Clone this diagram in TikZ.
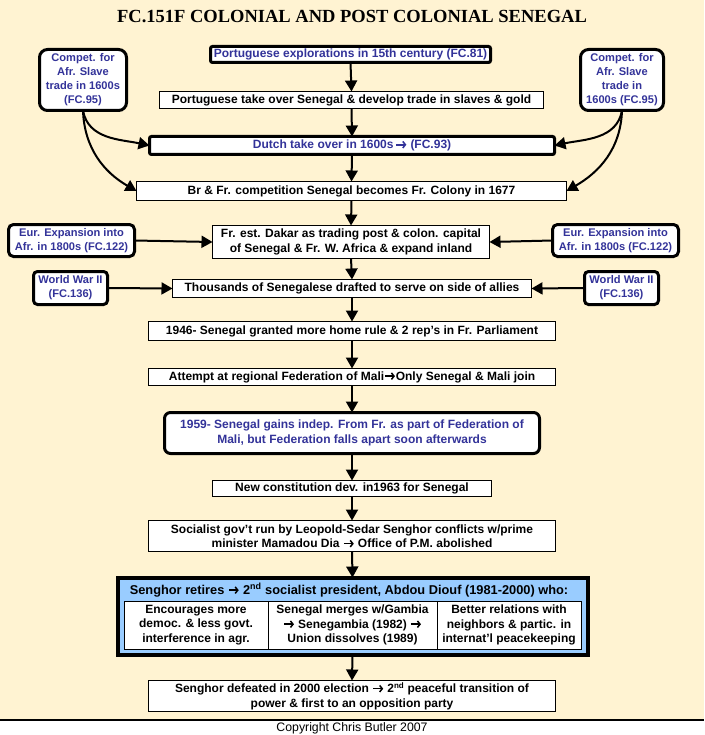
\documentclass[tikz,border=0pt]{standalone}
\usepackage{fontspec}
\setmainfont{Liberation Sans}
\newfontfamily\titlefont{Liberation Serif}
\usetikzlibrary{arrows.meta}
\definecolor{bgbeige}{RGB}{255,243,210}
\definecolor{txtblue}{RGB}{51,51,153}
\definecolor{boxblue}{RGB}{153,204,255}
\newcommand\arw{\tikz[baseline=0pt, x=1pt, y=1pt]\draw[line width=1.6pt, -{Straight Barb[length=2.6pt,width=6.5pt,line width=1.5pt]}] (0.5,3.9) -- (10.5,3.9);}
\begin{document}
\begin{tikzpicture}[x=1pt,y=-1pt,
  every node/.style={inner sep=0pt, outer sep=0pt, align=center, font=\bfseries\fontsize{12}{14.5}\selectfont},
  thinbox/.style={draw=black, line width=1pt, fill=white},
  thickbox/.style={draw=black, line width=3pt, fill=white, text=txtblue},
  sidetext/.style={font=\bfseries\fontsize{11.1}{14}\selectfont},
  flow/.style={line width=2pt, -{Triangle[width=12pt,length=11pt]}},
]
\useasboundingbox (0,0) rectangle (704,735);
\fill[bgbeige] (0,0) rectangle (704,720);
\fill[white] (0,720) rectangle (704,735);
\draw[line width=1.2pt] (0,720) -- (704,720);

\node[font=\titlefont\bfseries\fontsize{18.5}{20}\selectfont] (title) at (352,17) {FC.151F COLONIAL AND POST COLONIAL SENEGAL};

\node[thickbox, rounded corners=2pt, minimum width=280pt, minimum height=16pt] (pexp) at (350.5,54.5) {Portuguese explorations in 15th century (FC.81)};
\node[thickbox, sidetext, rounded corners=8pt, minimum width=87pt, minimum height=61pt] (lcomp) at (83,80) {Compet. for\\Afr. Slave\\trade in 1600s\\(FC.95)};
\node[thickbox, sidetext, rounded corners=8pt, minimum width=83pt, minimum height=61pt] (rcomp) at (622,80) {Compet. for\\Afr. Slave\\trade in\\1600s (FC.95)};
\node[thinbox, minimum width=384pt, minimum height=17pt] (ptake) at (351.5,100) {Portuguese take over Senegal \& develop trade in slaves \& gold};
\node[thickbox, rounded corners=2pt, minimum width=405pt, minimum height=18pt] (dutch) at (352,145.5) {Dutch take over in 1600s\,\arw\ (FC.93)};
\node[thinbox, minimum width=430pt, minimum height=19pt] (br) at (351.5,191) {Br \& Fr. competition Senegal becomes Fr. Colony in 1677};
\node[thinbox, minimum width=277pt, minimum height=33pt] (dakar) at (351,242) {Fr. est. Dakar as trading post \& colon. capital\\of Senegal \& Fr. W. Africa \& expand inland};
\node[thickbox, sidetext, rounded corners=5pt, minimum width=126pt, minimum height=32pt] (leur) at (71.5,240.5) {Eur. Expansion into\\Afr. in 1800s (FC.122)};
\node[thickbox, sidetext, rounded corners=5pt, minimum width=126pt, minimum height=32pt] (reur) at (615.5,240.5) {Eur. Expansion into\\Afr. in 1800s (FC.122)};
\node[thickbox, sidetext, rounded corners=4pt, minimum width=74pt, minimum height=33pt] (lww) at (70.5,288) {World War II\\(FC.136)};
\node[thickbox, sidetext, rounded corners=4pt, minimum width=74pt, minimum height=33pt] (rww) at (621.5,288) {World War II\\(FC.136)};
\node[thinbox, minimum width=359pt, minimum height=18pt] (thous) at (352,288.5) {Thousands of Senegalese drafted to serve on side of allies};
\node[thinbox, minimum width=407pt, minimum height=19pt] (r1946) at (352,331) {1946- Senegal granted more home rule \& 2 rep's in Fr. Parliament};
\node[thinbox, minimum width=407pt, minimum height=17pt] (attempt) at (352,377) {Attempt at regional Federation of Mali\arw Only Senegal \& Mali join};
\node[thickbox, rounded corners=6pt, minimum width=375pt, minimum height=41pt] (indep) at (352,433) {1959- Senegal gains indep. From Fr. as part of Federation of\\Mali, but Federation falls apart soon afterwards};
\node[thinbox, minimum width=279pt, minimum height=16pt] (constit) at (352,488.5) {New constitution dev. in1963 for Senegal};
\node[thinbox, minimum width=407pt, minimum height=31pt] (social) at (352,536) {Socialist gov't run by Leopold-Sedar Senghor conflicts w/prime\\minister Mamadou Dia \arw\ Office of P.M. abolished};
\node[draw=black, line width=4pt, fill=boxblue, minimum width=470pt, minimum height=77pt] (seng) at (352.5,616) {};
\node[font=\bfseries\fontsize{12.8}{14.5}\selectfont] (senghead) at (349,590) {Senghor retires \arw\ 2\textsuperscript{nd} socialist president, Abdou Diouf (1981-2000) who:};
\node[thinbox, minimum width=144pt, minimum height=48pt] (cella) at (196,625) {Encourages more\\democ. \& less govt.\\interference in agr.};
\node[thinbox, minimum width=169pt, minimum height=48pt] (cellb) at (352.5,625) {Senegal merges w/Gambia\\\arw\ Senegambia (1982) \arw\\Union dissolves (1989)};
\node[thinbox, minimum width=144pt, minimum height=48pt] (cellc) at (509,625) {Better relations with\\neighbors \& partic. in\\internat'l peacekeeping};
\node[thinbox, minimum width=407pt, minimum height=31pt] (defeat) at (352,696) {Senghor defeated in 2000 election \arw\ 2\textsuperscript{nd} peaceful transition of\\power \& first to an opposition party};

\node[font=\fontsize{12.3}{13}\selectfont] (copy) at (352,728) {Copyright Chris Butler 2007};

\draw[flow] (pexp.south) -- (ptake.north);
\draw[flow] (ptake.south) -- (dutch.north);
\draw[flow] (dutch.south) -- (br.north);
\draw[flow] (br.south) -- (dakar.north);
\draw[flow] (dakar.south) -- (thous.north);
\draw[flow] (thous.south) -- (r1946.north);
\draw[flow] (r1946.south) -- (attempt.north);
\draw[flow] (attempt.south) -- (indep.north);
\draw[flow] (indep.south) -- (constit.north);
\draw[flow] (constit.south) -- (social.north);
\draw[flow] (social.south) -- (seng.north);
\draw[flow] (seng.south) -- (defeat.north);

\draw[flow] (lcomp.south) to[out=-80, in=168] (dutch.west);
\draw[flow] (lcomp.south) to[out=-88, in=150] (br.west);
\draw[flow] (rcomp.south) to[out=-100, in=12] (dutch.east);
\draw[flow] (rcomp.south) to[out=-92, in=30] (br.east);

\draw[flow] (leur.east) -- (dakar.west);
\draw[flow] (reur.west) -- (dakar.east);
\draw[flow] (lww.east) -- (thous.west);
\draw[flow] (rww.west) -- (thous.east);
\end{tikzpicture}
\end{document}
